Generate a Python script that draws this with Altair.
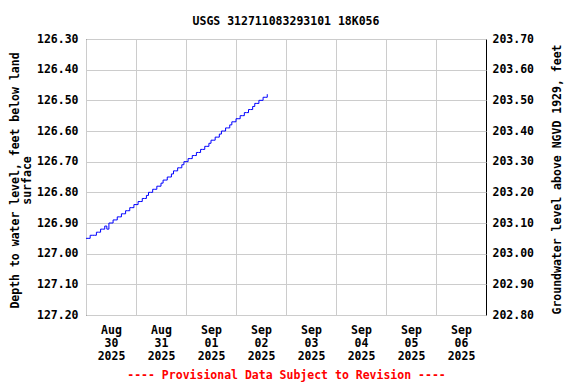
import altair as alt
import pandas as pd

# Hourly depth to water (ft below land surface), starting 2025-08-30 00:00
depth_ft = [
    126.95, 126.95, 126.94, 126.94, 126.94, 126.93, 126.93, 126.92, 126.92, 126.91, 126.92, 126.90,
    126.90, 126.89, 126.89, 126.88, 126.88, 126.87, 126.87, 126.86, 126.86, 126.85, 126.85, 126.84,
    126.84, 126.83, 126.83, 126.82, 126.82, 126.81, 126.80, 126.80, 126.79, 126.79, 126.78, 126.78,
    126.77, 126.76, 126.76, 126.75, 126.75, 126.74, 126.73, 126.73, 126.72, 126.72, 126.71, 126.70,
    126.70, 126.69, 126.69, 126.68, 126.68, 126.67, 126.67, 126.66, 126.66, 126.65, 126.65, 126.64,
    126.63, 126.63, 126.62, 126.62, 126.61, 126.60, 126.60, 126.59, 126.59, 126.58, 126.57, 126.57,
    126.56, 126.56, 126.55, 126.55, 126.54, 126.54, 126.53, 126.53, 126.52, 126.51, 126.51, 126.50,
    126.50, 126.49, 126.49, 126.48,
]
times = pd.date_range("2025-08-30 00:00", periods=len(depth_ft), freq="h").strftime("%Y-%m-%dT%H:%M:%SZ")

left_ticks = [126.30, 126.40, 126.50, 126.60, 126.70, 126.80, 126.90, 127.00, 127.10, 127.20]
right_ticks = [203.70, 203.60, 203.50, 203.40, 203.30, 203.20, 203.10, 203.00, 202.90, 202.80]
day_ticks = [(8, 30), (8, 31), (9, 1), (9, 2), (9, 3), (9, 4), (9, 5), (9, 6)]
x_domain = [(8, 30), (9, 7)]
datum_offset = 330.00  # land surface elevation, NGVD 1929

df = pd.DataFrame({"time": times, "depth": depth_ft})

FONT = "DejaVu Sans Mono"
FS = 11.5

x_enc = alt.X(
    "time:T",
    scale=alt.Scale(
        type="utc",
        domain=[alt.DateTime(year=2025, month=m, date=d, utc=True) for m, d in x_domain],
        nice=False,
    ),
    axis=alt.Axis(
        values=[alt.DateTime(year=2025, month=m, date=d, utc=True) for m, d in day_ticks],
        labelExpr="[utcFormat(datum.value,'%b'), utcFormat(datum.value,'%d'), utcFormat(datum.value,'%Y')]",
        labelOffset=25,
        labelFlush=False,
        labelOverlap=False,
        ticks=False,
        domain=False,
        grid=True,
        gridColor="#cccccc",
        labelPadding=9,
        labelLineHeight=13,
        labelBaseline="top",
        labelAlign="center",
        title="---- Provisional Data Subject to Revision ----",
        titleColor="red",
        titleX=200,
        titleY=60,
        titleAlign="center",
        titleBaseline="middle",
    ),
)

line = alt.Chart(df).mark_line(color="#0000ff", strokeWidth=1, interpolate="step-after").encode(
    x=x_enc,
    y=alt.Y(
        "depth:Q",
        scale=alt.Scale(domain=[126.3, 127.2], reverse=True, nice=False, zero=False),
        axis=alt.Axis(
            values=left_ticks,
            format=".2f",
            orient="left",
            grid=True,
            gridColor="#cccccc",
            ticks=False,
            domain=False,
            labelPadding=8,
            title=["Depth to water level, feet below land", "surface"],
            titleAngle=270,
            titleX=-71,
            titleY=141,
            titleAlign="center",
            titleBaseline="middle",
            titleLineHeight=12.7,
        ),
    ),
)

right = alt.Chart(df).transform_calculate(
    elev=f"{datum_offset} - datum.depth"
).mark_line(opacity=0).encode(
    x=x_enc,
    y=alt.Y(
        "elev:Q",
        scale=alt.Scale(domain=[202.8, 203.7], nice=False, zero=False),
        axis=alt.Axis(
            values=right_ticks,
            format=".2f",
            orient="right",
            grid=False,
            ticks=False,
            domain=False,
            labelPadding=6,
            title="Groundwater level above NGVD 1929, feet",
            titleAngle=270,
            titleX=71,
            titleY=140,
            titleAlign="center",
            titleBaseline="middle",
        ),
    ),
)

chart = (
    alt.layer(line, right)
    .resolve_scale(y="independent")
    .properties(
        width=400,
        height=276,
        title=alt.TitleParams(
            "USGS 312711083293101 18K056",
            anchor="middle",
            font=FONT,
            fontSize=FS,
            fontWeight="bold",
            color="black",
            baseline="middle",
            offset=0,
        ),
        autosize=alt.AutoSizeParams(type="none"),
        padding={"left": 78, "top": 31, "right": 82, "bottom": 69},
    )
    .configure_view(stroke="black", strokeWidth=1)
    .configure_axis(
        labelFont=FONT,
        labelFontSize=FS,
        labelFontWeight="bold",
        labelColor="black",
        titleFont=FONT,
        titleFontSize=FS,
        titleFontWeight="bold",
    )
    .configure_axisX(titleColor="red")
    .configure_axisY(titleColor="black")
)

chart.save("out.html", embed_options={"renderer": "svg", "actions": False})
